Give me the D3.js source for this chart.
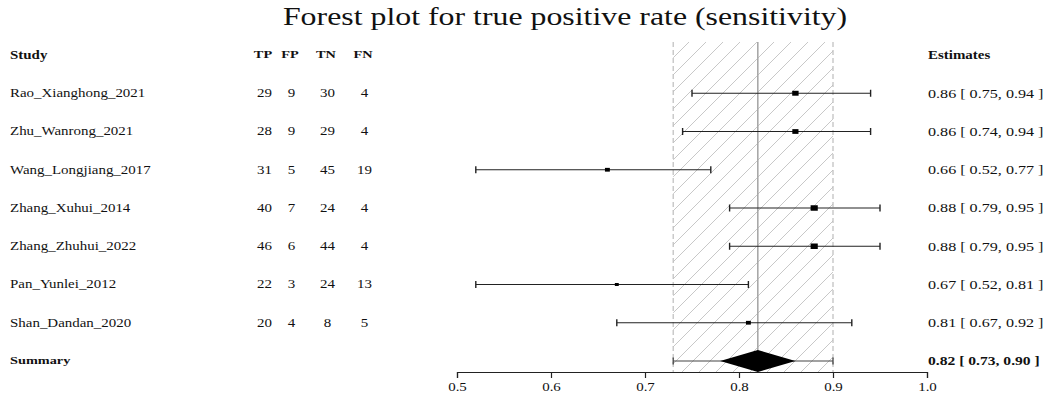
<!DOCTYPE html>
<html>
<head>
<meta charset="utf-8">
<script src="https://cdn.jsdelivr.net/npm/d3@7"></script>
<style>
  html, body { margin: 0; padding: 0; background: #fff; }
  svg { display: block; }
  text { font-family: "Liberation Serif", "Times New Roman", serif; fill: #111; }
</style>
</head>
<body>
<svg id="chart" width="1046" height="401"></svg>
<script>
// Study-level data
const studies = ["Rao_Xianghong_2021", "Zhu_Wanrong_2021", "Wang_Longjiang_2017",
  "Zhang_Xuhui_2014", "Zhang_Zhuhui_2022", "Pan_Yunlei_2012", "Shan_Dandan_2020"];
const tp = [29, 28, 31, 40, 46, 22, 20];
const fp = [9, 9, 5, 7, 6, 3, 4];
const tn = [30, 29, 45, 24, 44, 24, 8];
const fn = [4, 4, 19, 4, 4, 13, 5];
const sens = [0.86, 0.86, 0.66, 0.88, 0.88, 0.67, 0.81];
const lower = [0.75, 0.74, 0.52, 0.79, 0.79, 0.52, 0.67];
const upper = [0.94, 0.94, 0.77, 0.95, 0.95, 0.81, 0.92];

// Pooled estimate
const summary = { est: 0.82, lo: 0.73, hi: 0.90, diamondLo: 0.78, diamondHi: 0.86 };

const axisTicks = [0.5, 0.6, 0.7, 0.8, 0.9, 1.0];
const countCols = ["TP", "FP", "TN", "FN"];

const svg = d3.select("#chart");
const SX = 1.3;           // horizontal stretch of the lettering

const x = d3.scaleLinear().domain([0.5, 1.0]).range([457, 927]);
const rowY = d3.scaleLinear().domain([0, 8]).range([55, 361]);   // 0 = header, 8 = summary
const axisY = 372;
const bandTop = 42;

function label(g, txt, px, py, opts = {}) {
  return g.append("text")
    .attr("transform", `translate(${px},${py}) scale(${SX},1)`)
    .attr("text-anchor", opts.anchor || "start")
    .attr("dominant-baseline", "central")
    .style("font-size", (opts.size || 11.5) + "px")
    .style("font-weight", opts.bold ? "bold" : "normal")
    .text(txt);
}

// hatch pattern for the summary confidence band
const defs = svg.append("defs");
const pat = defs.append("pattern")
  .attr("id", "hatch")
  .attr("patternUnits", "userSpaceOnUse")
  .attr("width", 17).attr("height", 17);
pat.append("path")
  .attr("d", "M-2,19 L19,-2 M-2,2 L2,-2 M15,19 L19,15")
  .attr("stroke", "#c8c8c8").attr("stroke-width", 1).attr("fill", "none");

const plot = svg.append("g");

plot.append("rect")
  .attr("x", x(summary.lo)).attr("y", bandTop)
  .attr("width", x(summary.hi) - x(summary.lo))
  .attr("height", axisY - bandTop)
  .attr("fill", "url(#hatch)");

[summary.lo, summary.hi].forEach(v => {
  plot.append("line")
    .attr("x1", x(v)).attr("x2", x(v))
    .attr("y1", bandTop).attr("y2", axisY)
    .attr("stroke", "#bdbdbd").attr("stroke-width", 1.2)
    .attr("stroke-dasharray", "5,3");
});

plot.append("line")
  .attr("x1", x(summary.est)).attr("x2", x(summary.est))
  .attr("y1", bandTop).attr("y2", axisY)
  .attr("stroke", "#a8a8a8").attr("stroke-width", 1.6);

// study confidence intervals and point estimates
const sizeScale = d3.scaleLinear().domain([0.16, 0.29]).range([5.5, 3]);
const rows = studies.map((s, i) => ({ i, lo: lower[i], hi: upper[i], est: sens[i] }));

const rg = plot.selectAll("g.study").data(rows).join("g").attr("class", "study");
rg.append("line")
  .attr("x1", d => x(d.lo)).attr("x2", d => x(d.hi))
  .attr("y1", d => rowY(d.i + 1)).attr("y2", d => rowY(d.i + 1))
  .attr("stroke", "#222").attr("stroke-width", 1.2);
["lo", "hi"].forEach(k => {
  rg.append("line")
    .attr("x1", d => x(d[k])).attr("x2", d => x(d[k]))
    .attr("y1", d => rowY(d.i + 1) - 3.5).attr("y2", d => rowY(d.i + 1) + 3.5)
    .attr("stroke", "#222").attr("stroke-width", 1.4);
});
rg.append("rect")
  .attr("x", d => x(d.est) - sizeScale(d.hi - d.lo) * 0.65)
  .attr("y", d => rowY(d.i + 1) - sizeScale(d.hi - d.lo) / 2)
  .attr("width", d => sizeScale(d.hi - d.lo) * 1.3)
  .attr("height", d => sizeScale(d.hi - d.lo))
  .attr("fill", "#000");

// pooled estimate: interval line and diamond
const sy = rowY(8);
plot.append("line")
  .attr("x1", x(summary.lo)).attr("x2", x(summary.hi))
  .attr("y1", sy).attr("y2", sy)
  .attr("stroke", "#444").attr("stroke-width", 1.2);
[summary.lo, summary.hi].forEach(v => {
  plot.append("line")
    .attr("x1", x(v)).attr("x2", x(v))
    .attr("y1", sy - 3.5).attr("y2", sy + 3.5)
    .attr("stroke", "#444").attr("stroke-width", 1.3);
});
plot.append("path")
  .attr("d", d3.line()([
    [x(summary.diamondLo), sy], [x(summary.est), sy - 11],
    [x(summary.diamondHi), sy], [x(summary.est), sy + 11]
  ]) + "Z")
  .attr("fill", "#000");

// x axis
const axis = svg.append("g")
  .attr("transform", `translate(0,${axisY})`)
  .call(d3.axisBottom(x).tickValues(axisTicks).tickFormat(d3.format(".1f")).tickSize(6).tickPadding(5));
axis.select(".domain").attr("stroke", "#222").attr("stroke-width", 1.2);
axis.selectAll(".tick line").attr("stroke", "#222").attr("stroke-width", 1.2);
axis.selectAll(".tick text")
  .attr("transform", `scale(${SX},1)`)
  .style("font-family", "'Liberation Serif', serif")
  .style("font-size", "11.5px").attr("fill", "#111");

// title
label(svg, "Forest plot for true positive rate (sensitivity)", 565, 17, { anchor: "middle", size: 24.5 });

// table text
const tg = svg.append("g");
const colX = [263, 290, 326, 363];
label(tg, "Study", 10, rowY(0), { bold: true, size: 11.5 });
countCols.forEach((c, j) => label(tg, c, colX[j], rowY(0), { bold: true, size: 11, anchor: "middle" }));
label(tg, "Estimates", 928, rowY(0), { bold: true, size: 11.5 });

const fmt = d3.format(".2f");
studies.forEach((s, i) => {
  const yy = rowY(i + 1);
  label(tg, s, 10, yy);
  [tp[i], fp[i], tn[i], fn[i]].forEach((v, j) => label(tg, String(v), colX[j] + 1.5, yy, { anchor: "middle" }));
  label(tg, `${fmt(sens[i])} [ ${fmt(lower[i])}, ${fmt(upper[i])} ]`, 928, yy, { size: 12.4 });
});
label(tg, "Summary", 10, sy, { bold: true, size: 11 });
label(tg, `${fmt(summary.est)} [ ${fmt(summary.lo)}, ${fmt(summary.hi)} ]`, 928, sy, { bold: true, size: 12 });
</script>
</body>
</html>
